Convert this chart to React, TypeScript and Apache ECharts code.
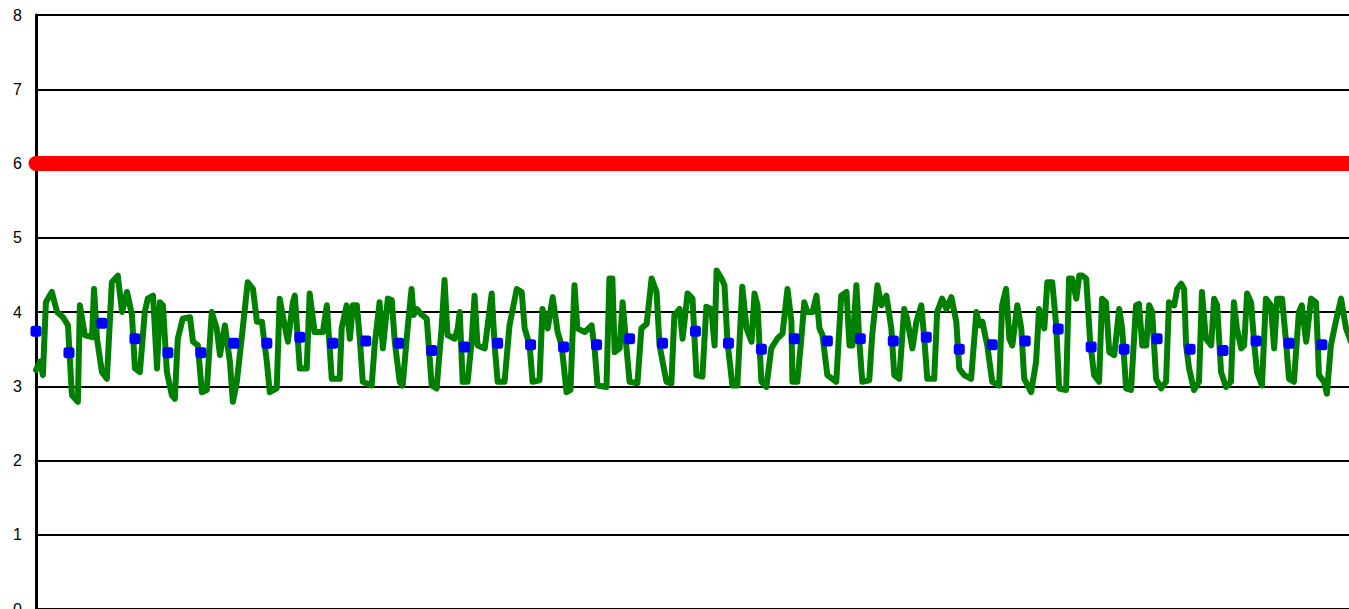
import React, { useEffect, useRef } from "react";
import * as echarts from "echarts";

// y-axis range
const yMin = 0;
const yMax = 8;
const yInterval = 1;

// x axis span in days (visible part)
const dayMax = 39.82;

// reference limit
const limitValue = 6;

// daily averages (blue markers), one per day starting at day 0
const dailyMean = [
  3.74, 3.45, 3.85, 3.64, 3.45, 3.45, 3.58, 3.58, 3.66, 3.58,
  3.61, 3.58, 3.48, 3.53, 3.58, 3.56, 3.53, 3.56, 3.64, 3.58,
  3.74, 3.58, 3.5, 3.64, 3.61, 3.64, 3.61, 3.66, 3.5, 3.56,
  3.61, 3.77, 3.53, 3.5, 3.64, 3.5, 3.48, 3.61, 3.58, 3.56,
];

// continuous readings: time (days) and value
const readingDay = [
  0.0, 0.12, 0.21, 0.3, 0.48, 0.64, 0.82, 0.97, 1.09, 1.27, 1.33, 1.48, 1.7, 1.76, 1.85,
  2.0, 2.15, 2.3, 2.48, 2.61, 2.76, 2.91, 3.0, 3.15, 3.3, 3.39, 3.55, 3.67, 3.76, 3.85,
  3.97, 4.12, 4.21, 4.3, 4.45, 4.67, 4.76, 4.91, 5.03, 5.18, 5.33, 5.48, 5.58, 5.73, 5.88,
  5.97, 6.09, 6.27, 6.42, 6.58, 6.7, 6.85, 7.0, 7.09, 7.3, 7.39, 7.48, 7.64, 7.79, 7.85,
  8.0, 8.21, 8.3, 8.45, 8.7, 8.82, 8.97, 9.21, 9.27, 9.42, 9.52, 9.61, 9.73, 9.82, 9.91,
  10.18, 10.27, 10.42, 10.52, 10.67, 10.79, 10.88, 11.03, 11.12, 11.27, 11.39, 11.45, 11.55, 11.7, 11.85,
  12.0, 12.15, 12.3, 12.39, 12.48, 12.7, 12.79, 12.85, 12.94, 13.09, 13.21, 13.3, 13.39, 13.61, 13.82,
  13.91, 14.0, 14.21, 14.36, 14.58, 14.73, 14.82, 14.97, 15.06, 15.27, 15.36, 15.52, 15.67, 15.82, 15.94,
  16.09, 16.21, 16.33, 16.42, 16.64, 16.85, 16.94, 17.03, 17.3, 17.39, 17.48, 17.55, 17.7, 17.79, 17.91,
  18.0, 18.24, 18.36, 18.52, 18.67, 18.82, 18.91, 19.12, 19.27, 19.36, 19.52, 19.61, 19.76, 19.91, 20.03,
  20.21, 20.33, 20.48, 20.58, 20.64, 20.79, 20.88, 20.97, 21.12, 21.27, 21.42, 21.55, 21.7, 21.79, 21.88,
  22.0, 22.15, 22.3, 22.48, 22.64, 22.79, 22.91, 22.94, 23.09, 23.21, 23.3, 23.39, 23.55, 23.67, 23.76,
  23.85, 24.0, 24.27, 24.42, 24.58, 24.67, 24.76, 24.88, 24.97, 25.06, 25.27, 25.36, 25.52, 25.64, 25.79,
  25.94, 26.03, 26.18, 26.33, 26.42, 26.58, 26.7, 26.85, 26.94, 27.03, 27.24, 27.33, 27.48, 27.61, 27.76,
  27.91, 28.0, 28.15, 28.36, 28.52, 28.61, 28.7, 28.85, 29.0, 29.21, 29.3, 29.42, 29.52, 29.61, 29.76,
  29.88, 29.97, 30.18, 30.33, 30.42, 30.58, 30.67, 30.82, 30.94, 31.03, 31.24, 31.33, 31.42, 31.55, 31.64,
  31.73, 31.85, 31.97, 32.09, 32.24, 32.33, 32.45, 32.55, 32.7, 32.85, 32.94, 33.06, 33.21, 33.36, 33.45,
  33.55, 33.67, 33.76, 33.85, 33.97, 34.12, 34.27, 34.36, 34.52, 34.61, 34.73, 34.82, 34.88, 34.97, 35.12,
  35.27, 35.36, 35.48, 35.64, 35.73, 35.82, 35.94, 36.09, 36.24, 36.33, 36.42, 36.55, 36.64, 36.73, 36.85,
  36.94, 37.03, 37.18, 37.3, 37.45, 37.55, 37.64, 37.79, 37.91, 38.0, 38.15, 38.3, 38.39, 38.52, 38.67,
  38.82, 38.91, 39.06, 39.15, 39.27, 39.42, 39.58, 39.73, 39.88,
];
const readingValue = [
  3.22, 3.33, 3.15, 4.13, 4.27, 4.0, 3.93, 3.82, 2.88, 2.79, 4.09, 3.69, 3.66, 4.31, 3.64,
  3.19, 3.1, 4.4, 4.49, 4.0, 4.27, 3.96, 3.24, 3.19, 4.0, 4.18, 4.22, 3.24, 4.13, 4.09,
  3.19, 2.88, 2.83, 3.64, 3.91, 3.93, 3.6, 3.55, 2.92, 2.95, 4.0, 3.78, 3.42, 3.82, 3.33,
  2.79, 3.06, 3.78, 4.4, 4.31, 3.87, 3.87, 3.33, 2.92, 2.97, 4.18, 3.96, 3.6, 4.13, 4.22,
  3.24, 3.24, 4.25, 3.73, 3.73, 4.09, 3.1, 3.1, 3.78, 4.09, 3.64, 4.09, 4.09, 3.64, 3.06,
  3.01, 3.55, 4.13, 3.51, 4.18, 4.16, 3.6, 3.06, 3.01, 3.78, 4.31, 3.96, 4.04, 3.96, 3.91,
  3.01, 2.97, 3.78, 4.43, 3.69, 3.64, 3.78, 4.0, 3.06, 3.06, 3.6, 4.22, 3.55, 3.51, 4.25,
  3.55, 3.06, 3.06, 3.82, 4.31, 4.27, 3.78, 3.55, 3.06, 3.08, 4.04, 3.78, 4.2, 3.73, 3.55,
  2.92, 2.95, 4.36, 3.78, 3.73, 3.82, 3.51, 3.01, 2.99, 4.45, 4.45, 3.46, 3.51, 4.13, 3.51,
  3.06, 3.04, 3.78, 3.84, 4.45, 4.27, 3.55, 3.06, 3.04, 3.96, 4.04, 3.64, 4.25, 4.18, 3.15,
  3.13, 4.07, 4.04, 3.55, 4.56, 4.45, 4.36, 3.6, 3.01, 3.01, 4.34, 3.78, 3.6, 4.25, 4.09,
  3.06, 2.99, 3.51, 3.64, 3.71, 4.31, 3.87, 3.06, 3.06, 3.64, 4.13, 4.0, 4.0, 4.22, 3.78,
  3.69, 3.15, 3.06, 4.22, 4.27, 3.55, 3.55, 4.36, 3.6, 3.06, 3.08, 3.69, 4.36, 4.09, 4.22,
  3.78, 3.15, 3.1, 4.04, 3.91, 3.51, 3.87, 4.09, 3.64, 3.1, 3.1, 4.0, 4.18, 4.04, 4.2,
  3.87, 3.24, 3.15, 3.1, 4.0, 3.82, 3.87, 3.55, 3.06, 3.01, 4.09, 4.31, 3.64, 3.55, 4.09,
  3.78, 3.1, 2.92, 3.33, 4.04, 3.78, 4.4, 4.4, 3.82, 2.97, 2.95, 4.45, 4.45, 4.18, 4.49,
  4.49, 4.45, 3.6, 3.15, 3.06, 4.18, 4.13, 3.46, 3.42, 4.04, 3.78, 2.97, 2.95, 4.09, 4.11,
  3.55, 3.55, 4.09, 4.0, 3.1, 2.97, 3.06, 4.13, 4.09, 4.31, 4.38, 4.31, 3.55, 3.24, 2.95,
  3.06, 4.27, 3.64, 3.55, 4.18, 4.09, 3.19, 2.99, 3.06, 4.13, 3.78, 3.51, 3.55, 4.25, 4.13,
  3.6, 3.19, 3.01, 4.18, 4.09, 3.51, 4.18, 4.18, 3.6, 3.1, 3.06, 4.0, 4.09, 3.6, 4.18,
  4.13, 3.15, 3.06, 2.9, 3.55, 3.87, 4.18, 3.78, 3.6,
];

export default function App() {
  const ref = useRef<HTMLDivElement>(null);

  useEffect(() => {
    if (!ref.current) return;
    const chart = echarts.init(ref.current, null, { renderer: "svg" });
    const readings = readingDay.map((d, i) => [d, readingValue[i]]);
    const means = dailyMean.map((v, i) => [i, v]);
    chart.setOption({
      animation: false,
      backgroundColor: "#ffffff",
      grid: {
        left: 36,
        right: 0,
        top: 15,
        bottom: 0,
        containLabel: false,
        outerBoundsMode: "none",
      },
      xAxis: {
        type: "value",
        min: 0,
        max: dayMax,
        show: false,
      },
      yAxis: {
        type: "value",
        min: yMin,
        max: yMax,
        interval: yInterval,
        axisLine: { show: true, lineStyle: { color: "#000", width: 3 } },
        axisTick: { show: false },
        axisLabel: {
          color: "#000",
          fontSize: 16,
          fontFamily: "Arial, 'Liberation Sans', sans-serif",
          margin: 14,
        },
        splitLine: { show: true, lineStyle: { color: "#000", width: 2 } },
      },
      series: [
        {
          type: "line",
          data: [
            [0, limitValue],
            [dayMax, limitValue],
          ],
          symbol: "none",
          clip: false,
          lineStyle: { color: "#ff0000", width: 15, cap: "round" },
          z: 2,
        },
        {
          type: "line",
          data: readings,
          symbol: "none",
          lineStyle: { color: "#008000", width: 6, join: "round", cap: "round" },
          z: 3,
        },
        {
          type: "scatter",
          data: means,
          symbol: "roundRect",
          symbolSize: 11,
          itemStyle: { color: "#0000ff", opacity: 1 },
          z: 4,
        },
      ],
    });
    return () => chart.dispose();
  }, []);

  return (
    <div
      style={{
        position: "fixed",
        left: 0,
        top: 0,
        width: 1349,
        height: 609,
        overflow: "hidden",
        background: "#fff",
      }}
    >
      <div ref={ref} style={{ width: 1349, height: 609 }} />
    </div>
  );
}
